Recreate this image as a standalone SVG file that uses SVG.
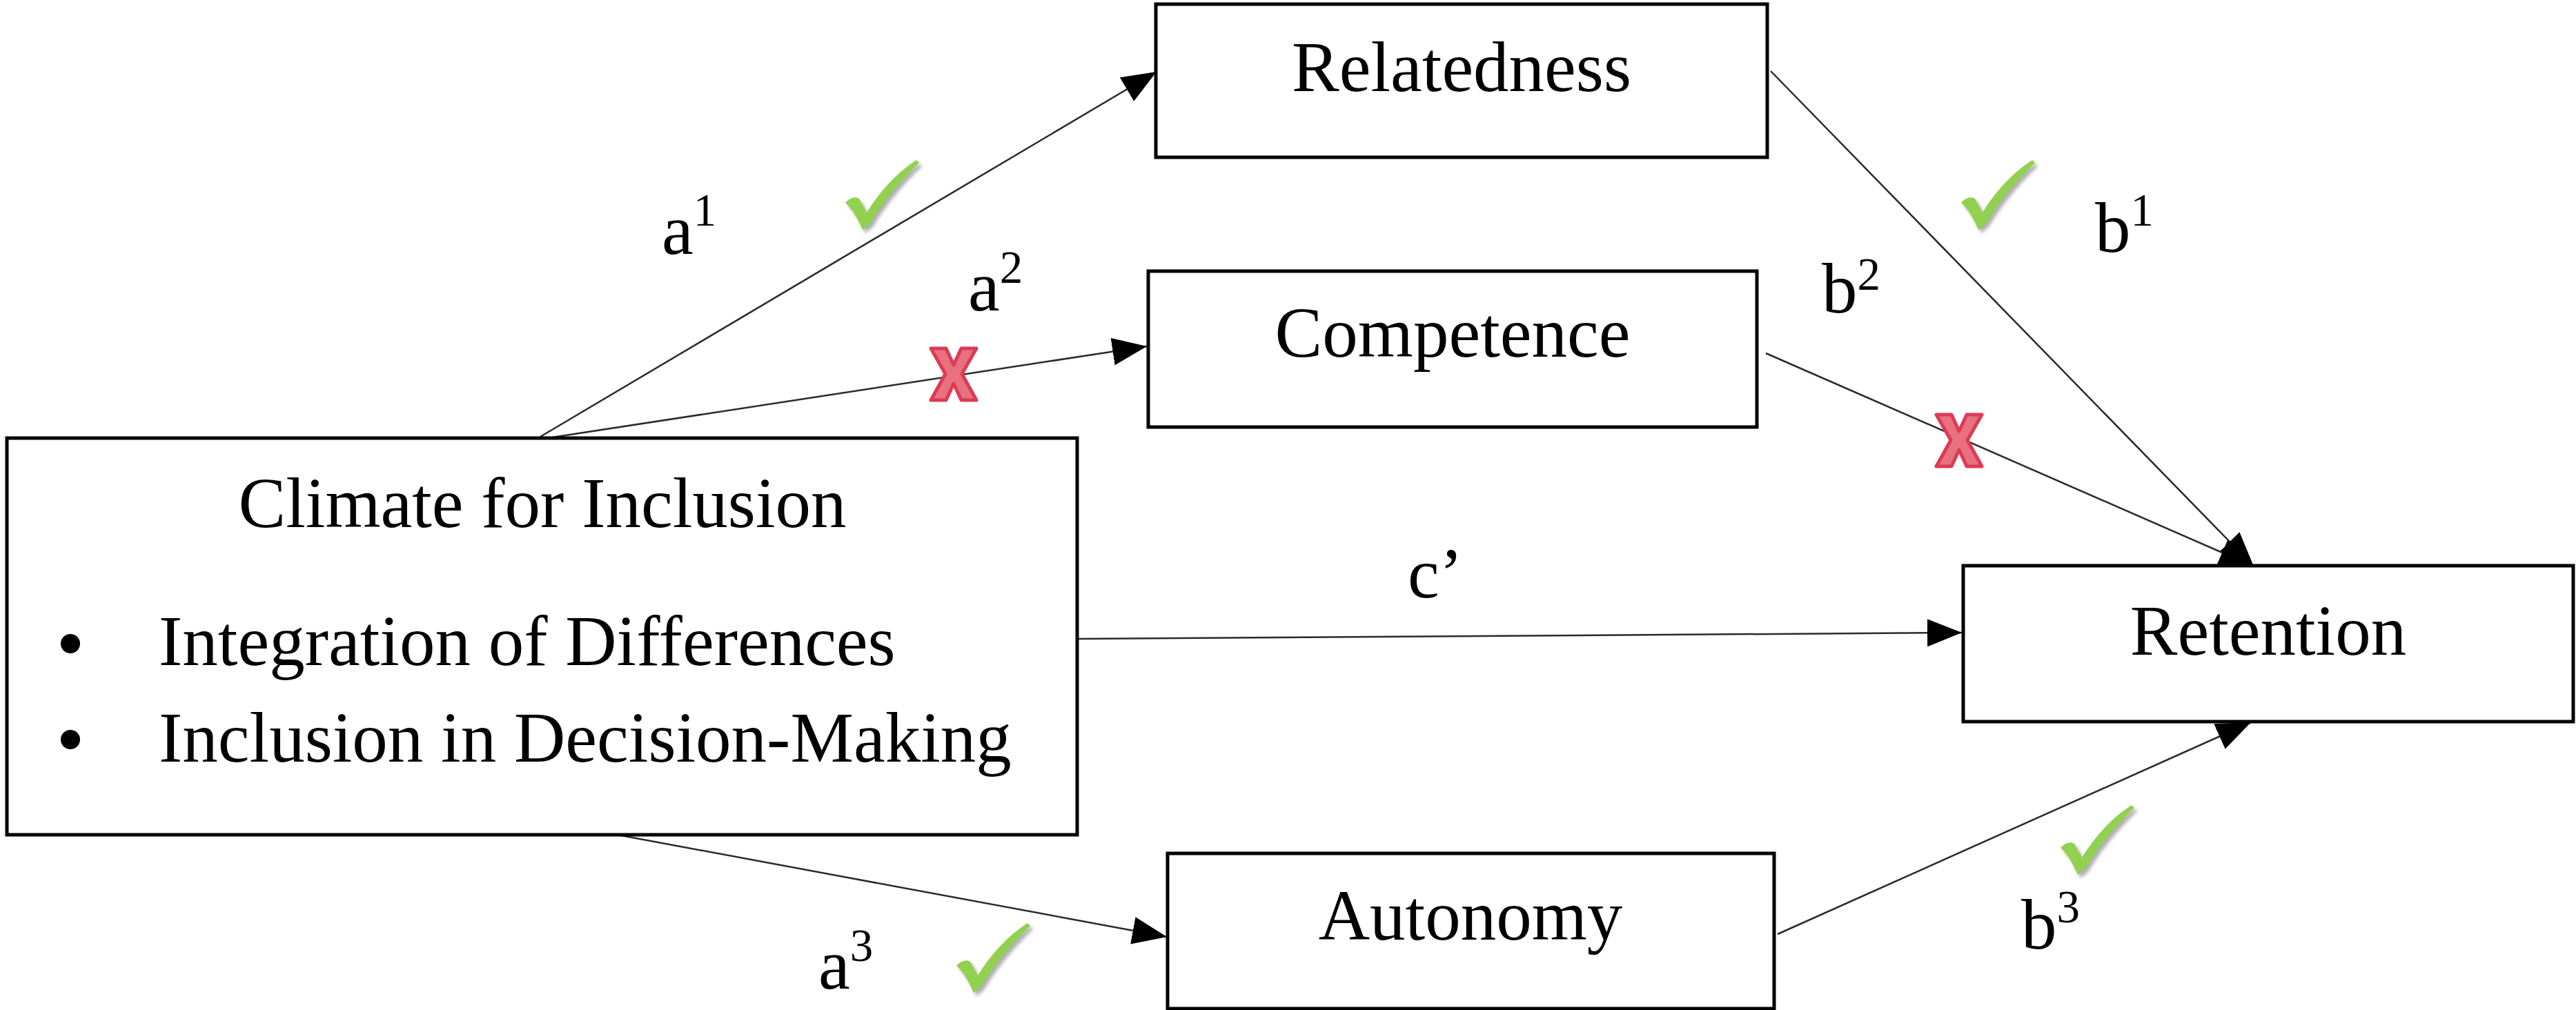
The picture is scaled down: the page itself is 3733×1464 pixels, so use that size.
<svg xmlns="http://www.w3.org/2000/svg" width="3733" height="1464" viewBox="0 0 3733 1464">
<style>
  .box { fill: #ffffff; stroke: #000000; stroke-width: 5; }
  .lbl { font-family: "Liberation Serif", "Times New Roman", serif; font-size: 103px; fill: #000000; }
  .mid { text-anchor: middle; }
  .conn { stroke: #2a2a2a; stroke-width: 2.5; fill: none; marker-end: url(#arrow); }
  .sup { font-size: 67px; }
</style>
<defs>
  <marker id="arrow" markerUnits="userSpaceOnUse" markerWidth="50" markerHeight="40" refX="50" refY="20" orient="auto">
    <path d="M0,0 L50,20 L0,40 Z" fill="#000000"/>
  </marker>
  <filter id="shadow" x="-20%" y="-20%" width="150%" height="150%">
    <feGaussianBlur stdDeviation="2.5"/>
  </filter>
  <g id="check">
    <path d="M25,101 C18,85 10,70 0,62 C6,55 14,52 20,56 L31,76 C50,45 75,18 103,0 L107,4 C80,30 55,60 36,92 Z" fill="#7a7a7a" opacity="0.6" transform="translate(4,5)" filter="url(#shadow)"/>
    <path d="M25,101 C18,85 10,70 0,62 C6,55 14,52 20,56 L31,76 C50,45 75,18 103,0 L107,4 C80,30 55,60 36,92 Z" fill="#92D050"/>
  </g>
  <g id="cross">
    <path d="M0,0 L22,0 L33,24 L44,0 L66,0 L45,37 L66,75 L44,75 L33,51 L22,75 L0,75 L21,37 Z" fill="#E8707F" stroke="#DC3B55" stroke-width="5" stroke-linejoin="round"/>
  </g>
</defs>

<g id="connectors">
  <line class="conn" x1="783" y1="633" x2="1676" y2="104"/>
  <line class="conn" x1="800" y1="634" x2="1662" y2="502"/>
  <line class="conn" x1="2566" y1="103" x2="3266" y2="821"/>
  <line class="conn" x1="2559" y1="512" x2="3266" y2="821"/>
  <line class="conn" x1="1562" y1="926" x2="2843" y2="917"/>
  <line class="conn" x1="857" y1="1203" x2="1691" y2="1358"/>
  <line class="conn" x1="2576" y1="1354" x2="3262" y2="1047"/>
</g>

<g id="node-climate">
  <rect class="box" x="10" y="635" width="1551" height="575"/>
  <text class="lbl mid" x="786" y="764">Climate for Inclusion</text>
  <circle cx="102" cy="933" r="14" fill="#000000"/>
  <text class="lbl" x="230" y="964">Integration of Differences</text>
  <circle cx="102" cy="1072" r="14" fill="#000000"/>
  <text class="lbl" x="230" y="1104">Inclusion in Decision-Making</text>
</g>

<g id="node-relatedness">
  <rect class="box" x="1675" y="6" width="886" height="222"/>
  <text class="lbl mid" x="2118" y="132">Relatedness</text>
</g>

<g id="node-competence">
  <rect class="box" x="1664" y="393" width="882" height="226"/>
  <text class="lbl mid" x="2105" y="517">Competence</text>
</g>

<g id="node-retention">
  <rect class="box" x="2845" y="820" width="884" height="226"/>
  <text class="lbl mid" x="3287" y="949">Retention</text>
</g>

<g id="node-autonomy">
  <rect class="box" x="1692" y="1237" width="879" height="225"/>
  <text class="lbl mid" x="2131" y="1362">Autonomy</text>
</g>

<g id="labels">
  <text class="lbl" x="959" y="368">a<tspan class="sup" dy="-41">1</tspan></text>
  <text class="lbl" x="1403" y="450">a<tspan class="sup" dy="-40">2</tspan></text>
  <text class="lbl" x="1186" y="1433">a<tspan class="sup" dy="-40">3</tspan></text>
  <text class="lbl" x="3036" y="365">b<tspan class="sup" dy="-38">1</tspan></text>
  <text class="lbl" x="2640" y="453">b<tspan class="sup" dy="-33">2</tspan></text>
  <text class="lbl" x="2929" y="1375">b<tspan class="sup" dy="-38">3</tspan></text>
  <text class="lbl" x="2040" y="866">c’</text>
</g>

<g id="marks">
  <use href="#check" x="1225" y="232"/>
  <use href="#check" x="2842" y="232"/>
  <use href="#check" x="1386" y="1338"/>
  <use href="#check" x="2986" y="1167"/>
  <use href="#cross" x="1349" y="505"/>
  <use href="#cross" x="2806" y="601"/>
</g>
</svg>
